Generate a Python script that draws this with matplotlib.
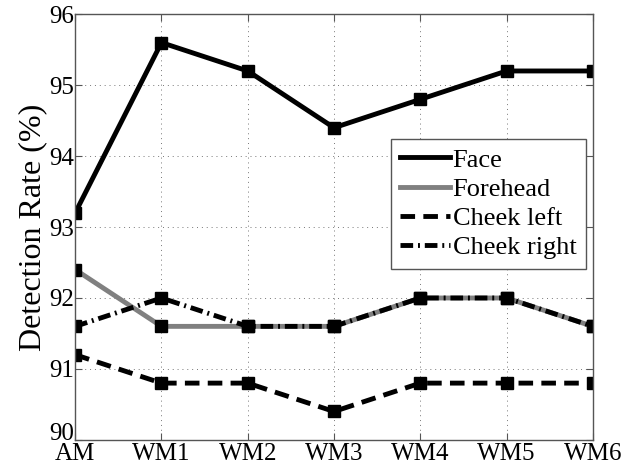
import matplotlib
matplotlib.use("Agg")
import matplotlib.pyplot as plt
import matplotlib.transforms as mtransforms

# Methods compared on the x axis
methods = ["AM", "WM1", "WM2", "WM3", "WM4", "WM5", "WM6"]

# Detection rate (%) per facial region
face = [93.2, 95.6, 95.2, 94.4, 94.8, 95.2, 95.2]
forehead = [92.4, 91.6, 91.6, 91.6, 92.0, 92.0, 91.6]
cheek_left = [91.2, 90.8, 90.8, 90.4, 90.8, 90.8, 90.8]
cheek_right = [91.6, 92.0, 91.6, 91.6, 92.0, 92.0, 91.6]

y_ticks = [90, 91, 92, 93, 94, 95, 96]

plt.rcParams["font.family"] = ["Liberation Serif", "DejaVu Serif"]

fig = plt.figure(figsize=(6.32, 4.74), dpi=100)
ax = fig.add_axes([0.119, 0.072, 0.819, 0.898])

x = list(range(len(methods)))
lw = 3.5
mk = dict(marker="s", markersize=9, markerfacecolor="black",
          markeredgecolor="black")

ax.plot(x, face, color="black", lw=lw, linestyle="-", label="Face", **mk)
ax.plot(x, forehead, color="#808080", lw=lw, linestyle="-", label="Forehead", **mk)
ax.plot(x, cheek_left, color="black", lw=lw, linestyle=(0, (3.0, 1.7)),
        label="Cheek left", **mk)
ax.plot(x, cheek_right, color="black", lw=lw, linestyle=(0, (2.6, 1.0, 0.4, 1.0)),
        label="Cheek right", **mk)

ax.set_xlim(0, len(methods) - 1)
ax.set_ylim(90, 96)
ax.set_xticks(x)
ax.set_xticklabels(methods)
ax.set_yticks(y_ticks)
ax.set_yticklabels([str(v) for v in y_ticks])

ax.tick_params(direction="in", length=5, width=0.8, colors="#555555",
               labelcolor="black", labelsize=18, top=True, right=True, pad=1)
ax.tick_params(axis="x", pad=2.5)

# lift the bottom y label slightly so it sits clear of the first x label
lift = mtransforms.ScaledTranslation(0, 6 / 72, fig.dpi_scale_trans)
bottom_label = ax.get_yticklabels()[0]
bottom_label.set_transform(bottom_label.get_transform() + lift)

ax.grid(True, linestyle=(0, (1, 4)), color="#777777", linewidth=0.7)

for sp in ax.spines.values():
    sp.set_color("#555555")
    sp.set_linewidth(1.0)

ax.set_ylabel("Detection Rate (%)", fontsize=23, labelpad=1)

leg = ax.legend(loc="upper right", bbox_to_anchor=(0.986, 0.707),
                fontsize=19, frameon=True, fancybox=False, shadow=False,
                handlelength=1.9, handletextpad=0.1, labelspacing=0.22,
                borderpad=0.35, borderaxespad=0.0)
leg.get_frame().set_edgecolor("#555555")
leg.get_frame().set_linewidth(1.0)
leg.get_frame().set_alpha(1.0)
for h in leg.legend_handles:
    h.set_marker("")

fig.savefig("out.png", dpi=100)
